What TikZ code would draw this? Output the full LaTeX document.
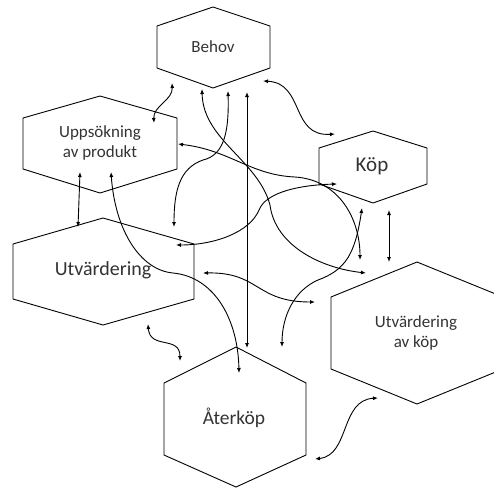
\documentclass[tikz,border=0pt]{standalone}
\usepackage{fontspec}
\setmainfont{Carlito}
\usetikzlibrary{arrows.meta}
\tikzset{
  hexa/.style={draw, line width=0.9pt, line join=miter},
  link/.style={{Latex[length=5pt,width=4pt]}-{Latex[length=5pt,width=4pt]}, line width=0.9pt},
  lbl/.style={text=black!80, align=center, inner sep=0pt}
}
\begin{document}
\begin{tikzpicture}[x=1pt,y=-1pt]
        \useasboundingbox (0,0) rectangle (494,488);
        \clip (0,0) rectangle (494,488);
        % hexagons
        \draw[hexa] (213,7) -- (270,26) -- (270,68) -- (213,88) -- (157,68) -- (157,26) -- cycle;
        \draw[hexa] (100,96) -- (177,118) -- (177,169) -- (100,193) -- (23,169) -- (23,118) -- cycle;
        \draw[hexa] (373,131) -- (427,148) -- (427,184) -- (373,203) -- (319,184) -- (319,148) -- cycle;
        \draw[hexa] (103,218) -- (194,244) -- (194,299) -- (103,325) -- (13,299) -- (13,244) -- cycle;
        \draw[hexa] (417,262) -- (503,297) -- (503,369) -- (417,404) -- (331,369) -- (331,297) -- cycle;
        \draw[hexa] (236,347) -- (306,383) -- (306,455) -- (236,487) -- (164,455) -- (164,383) -- cycle;
        % labels
        \node[lbl, font=\fontsize{17}{20}\selectfont] (behov) at (213,47) {Behov};
        \node[lbl, font=\fontsize{17}{20}\selectfont] (upps) at (100,143) {Uppsökning\\av produkt};
        \node[lbl, font=\fontsize{21}{24}\selectfont] (kop) at (372,166) {Köp};
        \node[lbl, font=\fontsize{20}{23}\selectfont] (utv) at (103,270) {Utvärdering};
        \node[lbl, font=\fontsize{17}{20}\selectfont] (utvkop) at (416,333) {Utvärdering\\av köp};
        \node[lbl, font=\fontsize{19.5}{23}\selectfont] (aterkop) at (234,418) {Återköp};
        % arrow ends
        \coordinate (bh1) at (172,83);
        \coordinate (bh2) at (202,89);
        \coordinate (bh3) at (228,91);
        \coordinate (bh4) at (247,92);
        \coordinate (bh5) at (263,81);
        \coordinate (up1) at (154,123);
        \coordinate (up2) at (178,144);
        \coordinate (up3) at (80,172);
        \coordinate (up4) at (111,172);
        \coordinate (kp1) at (335,134);
        \coordinate (kp2) at (337,184);
        \coordinate (kp3) at (362,208);
        \coordinate (kp4) at (389,210);
        \coordinate (ut1) at (78,227);
        \coordinate (ut2) at (174,227);
        \coordinate (ut3) at (176,245);
        \coordinate (ut4) at (203,273);
        \coordinate (ut5) at (148,324);
        \coordinate (uk1) at (366,273);
        \coordinate (uk2) at (360,260);
        \coordinate (uk3) at (389,262);
        \coordinate (uk4) at (315,302);
        \coordinate (uk5) at (378,398);
        \coordinate (ak1) at (247,348);
        \coordinate (ak2) at (239,373);
        \coordinate (ak3) at (282,347);
        \coordinate (ak4) at (180,361);
        \coordinate (ak5) at (315,459);
        % straight arrows
        \draw[link] (bh4) -- (ak1);
        \draw[link] (up3) -- (ut1);
        \draw[link] (kp4) -- (uk3);
        % wavy arrows
        \draw[link] (bh1) .. controls (173,100) and (153,106) .. (up1);
        \draw[link] (bh5) .. controls (305,83) and (290,137) .. (kp1);
        \draw[link] (ut4) .. controls (260,272) and (255,302) .. (uk4);
        \draw[link] (ut5) .. controls (150,350) and (180,335) .. (ak4);
        \draw[link] (ak5) .. controls (350,455) and (340,400) .. (uk5);
        % long curves
        \draw[link] (bh2) .. controls (203,140) and (258,160) .. (270,205)
          .. controls (275,245) and (320,268) .. (uk1);
        \draw[link] (up2) .. controls (230,150) and (250,175) .. (295,177)
          .. controls (340,180) and (360,220) .. (uk2);
        \draw[link] (bh3) .. controls (229,130) and (225,155) .. (203,160)
          .. controls (180,168) and (174,190) .. (ut2);
        \draw[link] (ut3) .. controls (215,245) and (250,232) .. (259,210)
          .. controls (266,192) and (300,185) .. (kp2);
        \draw[link] (up4) .. controls (115,230) and (140,270) .. (173,273)
          .. controls (215,277) and (238,320) .. (ak2);
        \draw[link] (kp3) .. controls (355,255) and (345,270) .. (318,280)
          .. controls (295,290) and (282,315) .. (ak3);
\end{tikzpicture}
\end{document}
